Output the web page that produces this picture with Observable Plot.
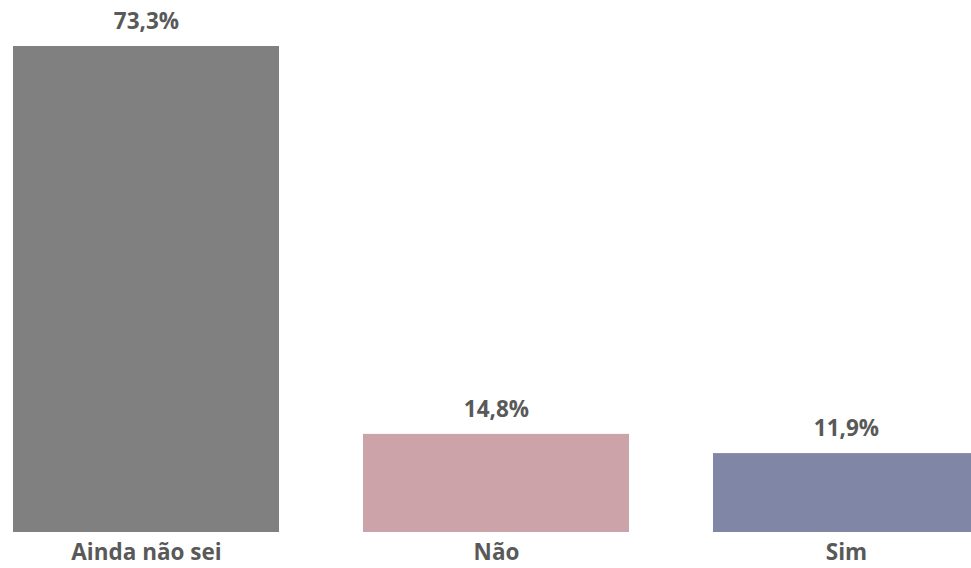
<!DOCTYPE html>
<html>
<head>
<meta charset="utf-8">
<script src="https://cdn.jsdelivr.net/npm/d3@7"></script>
<script src="https://cdn.jsdelivr.net/npm/@observablehq/plot@0.6"></script>
<style>
  html, body { margin: 0; padding: 0; background: #fff; }
  #chart svg { display: block; overflow: hidden; }
</style>
</head>
<body>
<div id="chart"></div>
<script>
const categories = ["Ainda não sei", "Não", "Sim"];
const values = [73.3, 14.8, 11.9];
const colors = ["#808080", "#CCA3A8", "#8087A6"];

const data = categories.map((c, i) => ({category: c, value: values[i]}));
const fmt = v => v.toFixed(1).replace(".", ",") + "%";

const chart = Plot.plot({
  width: 971,
  height: 568,
  marginTop: 46,
  marginBottom: 36,
  marginLeft: 0,
  marginRight: 0,
  style: {fontFamily: "'Open Sans', 'Noto Sans', sans-serif", background: "#fff"},
  x: {domain: categories, range: [13, 979], paddingInner: 0.24, paddingOuter: 0, axis: null},
  y: {domain: [0, 73.3], axis: null},
  color: {domain: categories, range: colors},
  marks: [
    Plot.barY(data, {x: "category", y: "value", fill: "category"}),
    Plot.text(data, {x: "category", y: "value", text: d => fmt(d.value), dy: -25,
      fontSize: 22.5, fontWeight: "bold", fill: "#595959"}),
    Plot.axisX({domain: categories, tickSize: 0, tickPadding: 12, fontSize: 22.5,
      fontWeight: "bold", color: "#595959", label: null})
  ]
});
document.getElementById("chart").appendChild(chart);
</script>
</body>
</html>
